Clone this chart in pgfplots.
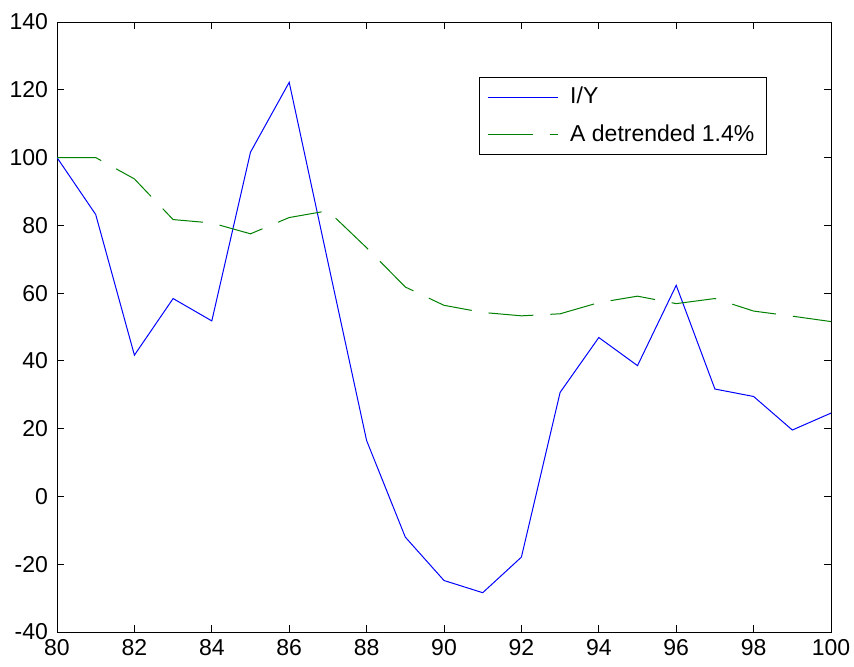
\documentclass[border=0pt]{standalone}
\usepackage{fontspec}
\setmainfont{Liberation Sans}
\usepackage{pgfplots}
\pgfplotsset{compat=1.18}

\definecolor{mblue}{RGB}{0,0,255}
\definecolor{mgreen}{RGB}{0,128,0}

\begin{document}
\begin{tikzpicture}
\begin{axis}[
  scale only axis,
  width=387pt, height=305pt,
  xmin=80, xmax=100, ymin=-40, ymax=140,
  xtick={80,82,...,100},
  ytick={-40,-20,...,140},
  tick align=inside,
  major tick length=3.5pt,
  tick style={black, line width=0.4pt},
  axis line style={black, line width=0.5pt},
  every tick label/.append style={font=\fontsize{11.5}{13}\selectfont},
  /pgf/number format/assume math mode=true,
  yticklabel style={xshift=-1pt},
  legend cell align=left,
  legend style={at={(0.917,0.91)}, anchor=north east,
    font=\fontsize{11.5}{13}\selectfont,
    row sep=5pt, inner xsep=4pt, inner ysep=3pt,
    /tikz/every odd column/.append style={column sep=4pt}},
  legend image code/.code={\draw[#1] (0pt,0pt) -- (35pt,0pt);},
]
\addplot[mblue, line width=0.5pt] coordinates {
  (80,100) (81,83.2) (82,41.7) (83,58.4) (84,51.8) (85,101.6) (86,122.2)
  (87,69.2) (88,16.5) (89,-12.0) (90,-24.8) (91,-28.4) (92,-17.9)
  (93,30.7) (94,46.9) (95,38.6) (96,62.3) (97,31.7) (98,29.5) (99,19.6) (100,24.6)
};
\addlegendentry{I/Y}
\addplot[mgreen, line width=0.5pt, dash pattern=on 22.5pt off 8.5pt] coordinates {
  (80,100) (81,100) (82,93.7) (83,81.7) (84,80.7) (85,77.5) (86,82.3)
  (87,84.3) (88,73.4) (89,61.8) (90,56.4) (91,54.3) (92,53.3)
  (93,53.9) (94,57.2) (95,59.1) (96,56.9) (97,58.4) (98,54.7) (99,53.2) (100,51.6)
};
\addlegendentry{A detrended 1.4\%}
\end{axis}
% page margins around the axis box
\pgfresetboundingbox
\path (current axis.south west) ++(-28.5pt,-17pt) rectangle
      (current axis.north east) ++(11.5pt,11pt);
\end{tikzpicture}
\end{document}
